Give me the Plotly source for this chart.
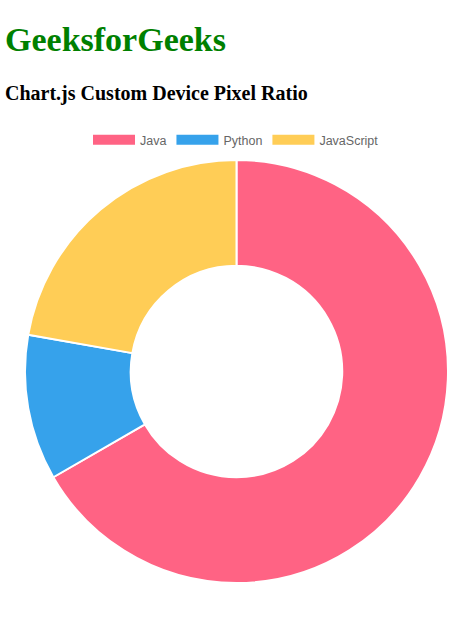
import plotly.graph_objects as go

# Data
labels = ["Java", "Python", "JavaScript"]
values = [60, 10, 20]
colors = ["rgb(255, 99, 132)", "rgb(54, 162, 235)", "rgb(255, 205, 86)"]

W, H = 474, 631


def px_x(px):
    return px / W


def px_y(px):
    # pixel from top -> paper y
    return 1 - px / H


fig = go.Figure()

fig.add_trace(go.Pie(
    labels=labels,
    values=values,
    marker=dict(colors=colors, line=dict(color="white", width=2)),
    hole=0.5,
    sort=False,
    direction="clockwise",
    rotation=0,
    textinfo="none",
    showlegend=False,
    domain=dict(x=[px_x(25), px_x(448)], y=[px_y(583), px_y(160)]),
))

# legend entries drawn as wide boxes, like chart.js
for lab, col in zip(labels, colors):
    fig.add_trace(go.Scatter(
        x=[None], y=[None],
        mode="lines",
        name=lab,
        line=dict(color=col, width=11),
        hoverinfo="skip",
    ))

fig.add_annotation(
    text="<b>GeeksforGeeks</b>", x=px_x(3), y=px_y(40),
    xref="paper", yref="paper", xanchor="left", yanchor="middle",
    showarrow=False,
    font=dict(family="Liberation Serif, Times New Roman, serif", size=34, color="green"),
)
fig.add_annotation(
    text="<b>Chart.js Custom Device Pixel Ratio</b>", x=px_x(3), y=px_y(93),
    xref="paper", yref="paper", xanchor="left", yanchor="middle",
    showarrow=False,
    font=dict(family="Liberation Serif, Times New Roman, serif", size=20, color="black"),
)

fig.update_layout(
    width=W,
    height=H,
    margin=dict(l=0, r=0, t=0, b=0),
    paper_bgcolor="white",
    plot_bgcolor="white",
    xaxis=dict(visible=False),
    yaxis=dict(visible=False),
    legend=dict(
        orientation="h",
        x=px_x(236), xanchor="center",
        y=px_y(140), yanchor="middle",
        itemwidth=42,
        font=dict(family="Liberation Sans, Arial, sans-serif", size=12.5, color="#666"),
        itemclick=False,
    ),
)

# page body has a default 8px margin; drop it so the figure sits at the window corner
fig.write_html(
    "out.html",
    config={"displayModeBar": False},
    post_script="document.body.style.margin='0';",
)
